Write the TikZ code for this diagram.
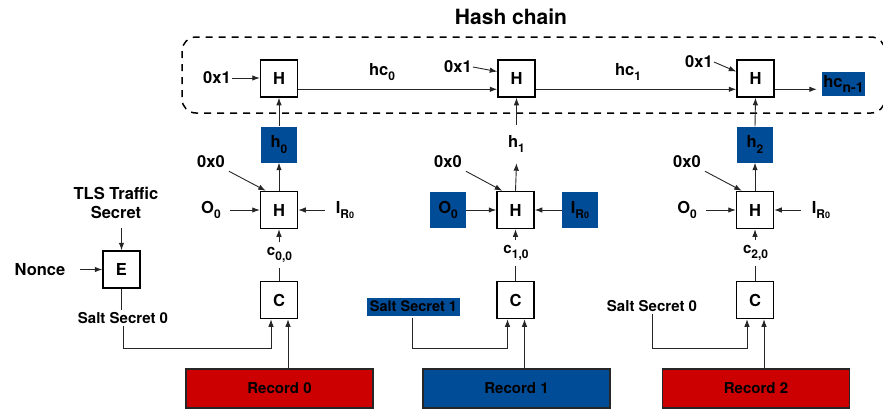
\documentclass[tikz,border=0pt]{standalone}
\usepackage{fontspec}
\setmainfont{TeX Gyre Heros}
\usetikzlibrary{arrows.meta,calc}
\definecolor{myblue}{RGB}{0,76,151}
\definecolor{myred}{RGB}{204,0,0}
\newcommand\sbs[1]{\raisebox{-0.32em}{\fontsize{12}{12}\selectfont #1}}
\newcommand\irz{I\raisebox{-0.3em}{\fontsize{12}{12}\selectfont R\raisebox{-0.05em}{\fontsize{9}{9}\selectfont 0}}}
\begin{document}
\begin{tikzpicture}[x=1pt,y=-1pt,
 txt/.style={font=\fontsize{16.5}{19}\selectfont\bfseries, inner sep=1pt},
 stxt/.style={font=\fontsize{15}{18}\selectfont\bfseries, inner sep=1pt},
 opbox/.style={draw=black, line width=1.5pt, minimum size=37pt, inner sep=0pt, fill=white, font=\fontsize{16.5}{19}\selectfont\bfseries},
 bluebox/.style={fill=myblue, minimum size=36pt, inner sep=0pt, font=\fontsize{16.5}{19}\selectfont\bfseries},
 ghost/.style={minimum width=36pt, minimum height=38pt, inner sep=0pt, font=\fontsize{16.5}{19}\selectfont\bfseries},
 recbox/.style={draw=black!85, line width=1.5pt, minimum width=187pt, minimum height=39pt, inner sep=0pt, font=\fontsize{15}{18}\selectfont\bfseries},
 arr/.style={draw=black!85, line width=0.9pt, -{Latex[length=7.5pt,width=5.5pt]}},
 ln/.style={draw=black!85, line width=0.9pt},
]
\useasboundingbox (0,0) rectangle (883,410);

% title and dashed frame
\node[font=\fontsize{21}{24}\selectfont\bfseries] (title) at (511,17) {Hash chain};
\draw[line width=1.5pt, dash pattern=on 7pt off 6pt, rounded corners=14pt] (182,37) rectangle (885,113);

% top row
\node[opbox] (H1) at (279,78.5) {H};
\node[opbox] (H2) at (516.5,78.5) {H};
\node[opbox] (H3) at (755.5,78.5) {H};
\node[txt] (x01a) at (217,78) {0x1};
\node[txt] (x01b) at (458,67) {0x1};
\node[txt] (x01c) at (699,62) {0x1};
\node[txt] (hc0) at (382,72) {hc\sbs{0}};
\node[txt] (hc1) at (628,72) {hc\sbs{1}};
\node[fill=myblue, minimum width=43pt, minimum height=24pt, inner sep=0pt, font=\fontsize{16.5}{19}\selectfont\bfseries] (hcn) at (843.5,84) {hc\raisebox{-0.28em}{\fontsize{14}{14}\selectfont n-1}};

\draw[arr] (x01a.east) -- (x01a.east -| H1.west);
\draw[arr] (x01b.east) -- ($(H2.north west)!0.32!(H2.south west)$);
\draw[arr] (x01c.east) -- ($(H3.north west)!0.32!(H3.south west)$);
\draw[arr] ($(H1.north east)!0.78!(H1.south east)$) -- ($(H2.north west)!0.78!(H2.south west)$);
\draw[arr] ($(H2.north east)!0.78!(H2.south east)$) -- ($(H3.north west)!0.78!(H3.south west)$);
\coordinate (h3out) at ($(H3.north east)!0.78!(H3.south east)$);
\coordinate (hcnin) at ([xshift=-5pt]h3out -| hcn.west);
\draw[arr] (h3out) -- (hcnin);

% h outputs
\node[bluebox] (h0) at (279,144.5) {h\sbs{0}};
\node[ghost] (h1) at (516.5,144) {h\sbs{1}};
\node[bluebox] (h2) at (755,144.5) {h\sbs{2}};
\draw[arr] (h0.north) -- (H1.south);
\draw[arr] (h1.north) -- (H2.south);
\draw[arr] (h2.north) -- (H3.south);

% middle H boxes
\node[opbox] (Hm1) at (279,210) {H};
\node[opbox] (Hm2) at (515.5,210) {H};
\node[opbox] (Hm3) at (755,210) {H};
\draw[arr] (Hm1.north) -- (h0.south);
\draw[arr] (Hm2.north) -- (h1.south);
\draw[arr] (Hm3.north) -- (h2.south);

\node[txt] (z1) at (211,162) {0x0};
\node[txt] (z2) at (448,162) {0x0};
\node[txt] (z3) at (687,162) {0x0};
\draw[arr] ($(z1.south east)+(3,2)$) -- ([xshift=6pt]Hm1.north west);
\draw[arr] ($(z2.south east)+(3,2)$) -- ([xshift=6pt]Hm2.north west);
\draw[arr] ($(z3.south east)+(3,2)$) -- ([xshift=6pt]Hm3.north west);

\node[txt] (o1) at (211,210) {O\sbs{0}};
\node[txt] (i1) at (345,210) {\irz};
\coordinate (o1e) at (230,210);
\coordinate (i1w) at (325,210);
\draw[arr] (o1e) -- (Hm1.west);
\draw[arr] (i1w) -- (Hm1.east);

\node[bluebox] (o2) at (448,210) {O\sbs{0}};
\node[bluebox] (i2) at (580,210) {\irz};
\draw[arr] (o2.east) -- (Hm2.west);
\draw[arr] (i2.west) -- (Hm2.east);

\node[txt] (o3) at (687,210) {O\sbs{0}};
\node[txt] (i3) at (821,210) {\irz};
\coordinate (o3e) at (706,210);
\coordinate (i3w) at (801,210);
\draw[arr] (o3e) -- (Hm3.west);
\draw[arr] (i3w) -- (Hm3.east);

% c values
\node[stxt, minimum height=26pt] (c0) at (279.5,255) {c\sbs{0,0}};
\node[stxt, minimum height=26pt] (c1) at (516,253) {c\sbs{1,0}};
\node[stxt, minimum height=26pt] (c2) at (755.5,253) {c\sbs{2,0}};
\node[opbox] (C1) at (279,300) {C};
\node[opbox] (C2) at (515.5,300) {C};
\node[opbox] (C3) at (755,300) {C};
\draw[ln] (C1.north) -- (c0.south -| C1.north);
\draw[ln] (C2.north) -- (c1.south -| C2.north);
\draw[ln] (C3.north) -- (c2.south -| C3.north);
\draw[arr] (c0.north -| Hm1.south) -- (Hm1.south);
\draw[arr] (c1.north -| Hm2.south) -- (Hm2.south);
\draw[arr] (c2.north -| Hm3.south) -- (Hm3.south);

% records
\node[recbox, fill=myred] (R0) at (279.5,388.5) {Record 0};
\node[recbox, fill=myblue] (R1) at (516.5,388.5) {Record 1};
\node[recbox, fill=myred] (R2) at (756,388.5) {Record 2};
\draw[arr] ([xshift=9pt]C1.south |- R0.north) -- ([xshift=9pt]C1.south);
\draw[arr] ([xshift=9pt]C2.south |- R1.north) -- ([xshift=9pt]C2.south);
\draw[arr] ([xshift=9pt]C3.south |- R2.north) -- ([xshift=9pt]C3.south);

% E block
\node[opbox] (E) at (121.5,269.5) {E};
\node[txt, align=center, font=\fontsize{16.5}{19}\selectfont\bfseries] (tls) at (116,203) {TLS Traffic\\Secret};
\node[txt] (nonce) at (40,270) {Nonce};
\coordinate (tlsb) at (121.5,228);
\coordinate (noncee) at (80,269.5);
\draw[arr] (tlsb) -- (E.north);
\draw[arr] (noncee) -- (E.west);

% salts
\node[stxt] (s0) at (123,318) {Salt Secret 0};
\node[fill=myblue, minimum width=93pt, minimum height=18pt, inner sep=0pt, font=\fontsize{14.5}{17}\selectfont\bfseries] (s1) at (413.5,306.5) {Salt Secret 1};
\node[stxt] (s2) at (652,306) {Salt Secret 0};
\coordinate (s0t) at (121.5,310);
\draw[ln] (E.south) -- (s0t);
\coordinate (j0) at (123,348);
\coordinate (j1) at (412,348);
\coordinate (j2) at (652,348);
\draw[arr] ([yshift=-1pt]s0.south -| j0) -- (j0) -| ([xshift=-8pt]C1.south);
\draw[arr] ([yshift=-2pt]s1.south -| j1) -- (j1) -| ([xshift=-8pt]C2.south);
\draw[arr] ([yshift=-1pt]s2.south -| j2) -- (j2) -| ([xshift=-8pt]C3.south);
\end{tikzpicture}
\end{document}
